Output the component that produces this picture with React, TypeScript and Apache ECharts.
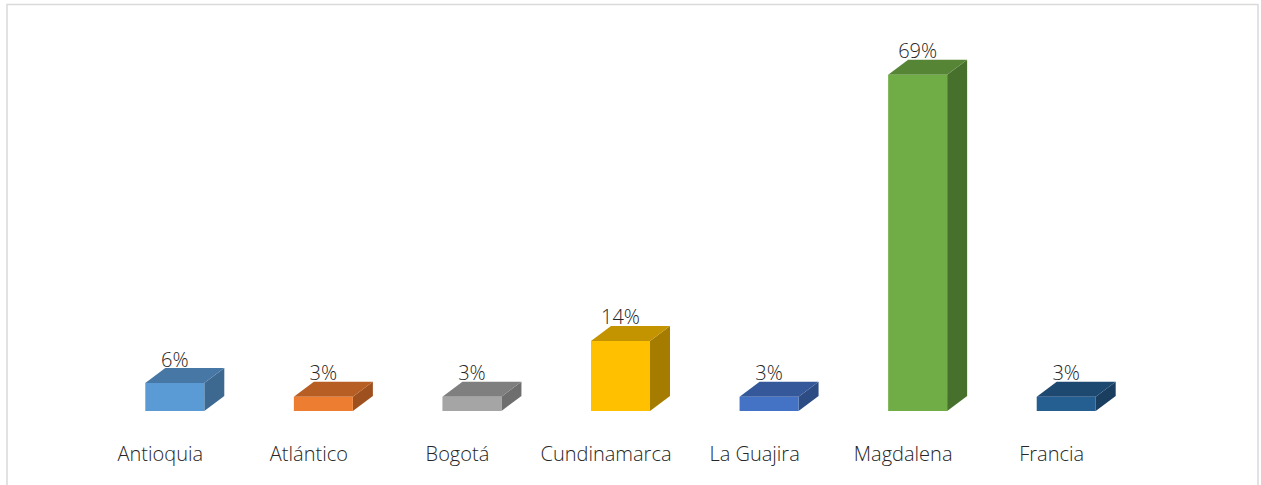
import React, { useEffect, useRef } from "react";
import * as echarts from "echarts";

const categories = ["Antioquia", "Atlántico", "Bogotá", "Cundinamarca", "La Guajira", "Magdalena", "Francia"];
const values = [5.7, 2.9, 2.9, 14.3, 2.9, 68.6, 2.9];
const labels = ["6%", "3%", "3%", "14%", "3%", "69%", "3%"];

const frontColors = ["#5B9BD5", "#ED7D31", "#A5A5A5", "#FFC000", "#4472C4", "#70AD47", "#255E91"];
const topColors = ["#4677A5", "#B65E24", "#7F7F7F", "#C49300", "#34589A", "#568536", "#1D4970"];
const sideColors = ["#3D6890", "#9E511F", "#6E6E6E", "#A67C00", "#2D4C84", "#48702D", "#193E60"];

const FONT = "'Open Sans', 'Segoe UI', sans-serif";

export default function App() {
  const ref = useRef<HTMLDivElement>(null);
  useEffect(() => {
    if (!ref.current) return;
    const chart = echarts.init(ref.current, undefined, { renderer: "svg" });
    const W = 59, DX = 20, DY = 15, OFF = 14.5;
    chart.setOption({
      animation: false,
      backgroundColor: "#ffffff",
      graphic: [
        {
          type: "rect",
          shape: { x: 7, y: 4.5, width: 1251, height: 500 },
          style: { fill: "none", stroke: "#D9D9D9", lineWidth: 1.5 },
          silent: true,
        },
      ],
      grid: { left: 86, width: 1040, top: 68, bottom: 74 },
      xAxis: {
        type: "category",
        data: categories,
        axisLine: { show: false },
        axisTick: { show: false },
        axisLabel: { color: "#262626", fontSize: 20, fontFamily: FONT, fontWeight: 300, margin: 32, interval: 0 },
      },
      yAxis: { type: "value", min: 0, max: 70, show: false, splitLine: { show: false } },
      series: [
        {
          type: "custom",
          data: values.map((v, i) => [i, v]),
          renderItem: (params: any, api: any) => {
            const i = params.dataIndex;
            const cx = api.coord([api.value(0), 0])[0] + OFF;
            const y0 = api.coord([api.value(0), 0])[1];
            const y1 = api.coord([api.value(0), api.value(1)])[1];
            const xl = cx - W / 2, xr = cx + W / 2;
            return {
              type: "group",
              children: [
                {
                  type: "polygon",
                  shape: { points: [[xr, y1], [xr + DX, y1 - DY], [xr + DX, y0 - DY], [xr, y0]] },
                  style: { fill: sideColors[i] },
                },
                {
                  type: "polygon",
                  shape: { points: [[xl, y1], [xl + DX, y1 - DY], [xr + DX, y1 - DY], [xr, y1]] },
                  style: { fill: topColors[i] },
                },
                {
                  type: "rect",
                  shape: { x: xl, y: y1, width: W, height: y0 - y1 },
                  style: { fill: frontColors[i] },
                },
                {
                  type: "text",
                  x: cx,
                  y: y1 - DY + 1,
                  style: {
                    text: labels[i],
                    fill: "#262626",
                    fontSize: 20,
                    fontFamily: FONT,
                    fontWeight: 300,
                    align: "center",
                    verticalAlign: "bottom",
                  },
                },
              ],
            };
          },
        },
      ],
    });
    return () => chart.dispose();
  }, []);
  return (
    <div
      ref={ref}
      style={{ position: "absolute", left: 0, top: 0, width: 1261, height: 485 }}
    />
  );
}
